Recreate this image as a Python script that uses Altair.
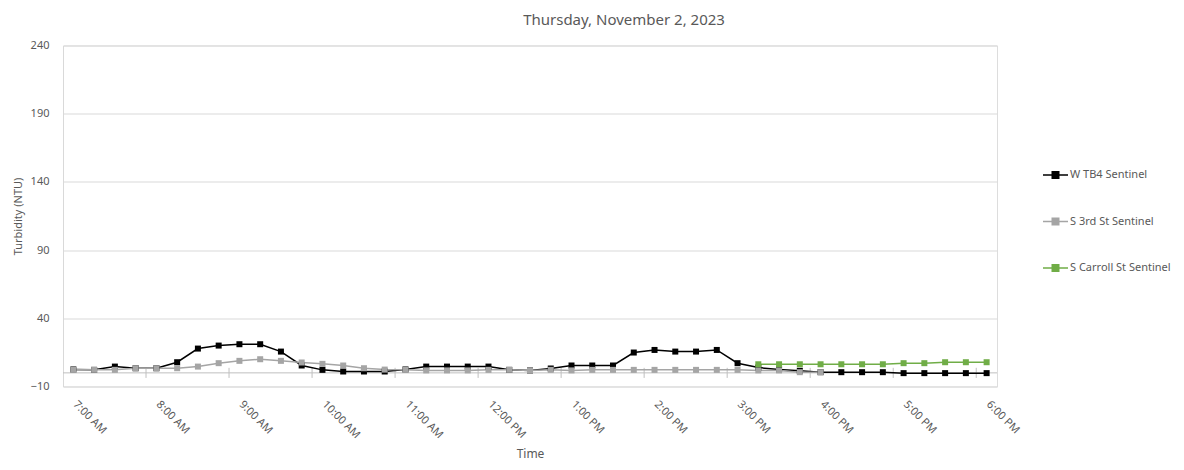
import altair as alt
import pandas as pd

# ---- data ----
times = pd.date_range("2023-11-02 07:00", "2023-11-02 18:00", freq="15min")

series_names = ["W TB4 Sentinel", "S 3rd St Sentinel", "S Carroll St Sentinel"]
series_colors = ["#000000", "#a5a5a5", "#70ad47"]

# W TB4 Sentinel: 7:00 AM .. 6:00 PM (45 readings)
w_tb4 = [2.5, 2.2, 4.6, 3.4, 3.4, 7.8, 17.8, 20.0, 21.0, 21.0, 15.6, 5.4,
         2.2, 1.0, 1.0, 1.0, 2.5, 4.6, 4.6, 4.6, 4.6, 2.2, 1.8, 3.2,
         5.4, 5.4, 5.4, 14.9, 16.8, 15.6, 15.6, 16.8, 7.1, 3.9, 2.5, 1.5,
         0.5, 0.5, 0.5, 0.5, -0.2, -0.2, -0.2, -0.2, -0.2]
# S 3rd St Sentinel: 7:00 AM .. 4:00 PM (37 readings)
s_3rd = [2.2, 2.2, 2.2, 3.4, 3.4, 3.4, 4.6, 7.1, 8.8, 10.0, 8.8, 7.6,
         6.6, 5.4, 3.4, 2.4, 2.2, 1.8, 1.8, 1.8, 2.2, 2.2, 1.8, 2.2,
         1.8, 2.2, 2.2, 2.2, 2.2, 2.2, 2.2, 2.2, 2.2, 1.8, 1.8, 0.5, 0.5]
# S Carroll St Sentinel: 3:15 PM .. 6:00 PM (12 readings)
s_carroll = [6.3, 6.3, 6.3, 6.3, 6.3, 6.3, 6.3, 7.1, 7.1, 7.8, 7.8, 7.8]

y_ticks = [-10, 40, 90, 140, 190, 240]
hour_ticks = list(range(7, 19))          # labelled hours, 7 AM .. 6 PM
boundary_hours = list(range(8, 19))      # axis tick marks between categories

title_text = "Thursday, November 2, 2023"
y_title = "Turbidity (NTU)"
x_title = "Time"

# ---- build tables ----
rows = []
for t, v in zip(times, w_tb4):
    rows.append({"time": t, "series": series_names[0], "value": v})
for t, v in zip(times[:len(s_3rd)], s_3rd):
    rows.append({"time": t, "series": series_names[1], "value": v})
for t, v in zip(times[len(times) - len(s_carroll):], s_carroll):
    rows.append({"time": t, "series": series_names[2], "value": v})
df = pd.DataFrame(rows)
df["time"] = df["time"].dt.strftime("%Y-%m-%dT%H:%M:%S")

tick_df = pd.DataFrame({
    "t": [f"2023-11-02T{h - 1:02d}:52:30" for h in boundary_hours],
    "lo": [-3.7] * len(boundary_hours),
    "hi": [3.7] * len(boundary_hours),
})
zero_df = pd.DataFrame({"v": [0]})

FONT = "Noto Sans"
TXT = "#595959"

def dt(h, m=0, s=0):
    return alt.DateTime(year=2023, month=11, date=2, hours=h, minutes=m, seconds=s)

x_scale = alt.Scale(domain=[dt(6, 52, 30), dt(18, 7, 30)])
y_scale = alt.Scale(domain=[-10, 240], nice=False, zero=False)
color_scale = alt.Scale(domain=series_names, range=series_colors)

x_enc = alt.X(
    "time:T", scale=x_scale, title=x_title,
    axis=alt.Axis(
        values=[dt(h) for h in hour_ticks], format="%-I:%M %p",
        labelAngle=45, labelAlign="left", labelBaseline="middle",
        labelPadding=16, labelOffset=1, labelFontSize=11, labelColor=TXT,
        labelFont=FONT, ticks=False, domain=False, grid=False,
        titleFont=FONT, titleFontSize=12, titleColor=TXT, titleFontWeight="normal",
        titleY=67, titleBaseline="middle", labelOverlap=False,
    ),
)
y_enc = alt.Y(
    "value:Q", scale=y_scale, title=y_title,
    axis=alt.Axis(
        values=y_ticks, labelPadding=14, labelFontSize=11, labelColor=TXT,
        labelFont=FONT, ticks=False, domainColor="#d9d9d9", gridColor="#d9d9d9",
        titleFont=FONT, titleFontSize=11, titleColor=TXT, titleFontWeight="normal",
        titleX=-45, titleBaseline="middle",
    ),
)

legend_path = "M-1,0L1,0M-0.26,-0.26L0.26,-0.26L0.26,0.26L-0.26,0.26Z"
legend = alt.Legend(
    title=None, orient="none", legendX=979, legendY=116,
    symbolType=legend_path, symbolSize=625, symbolStrokeWidth=1.5,
    labelFont=FONT, labelFontSize=11, labelColor=TXT, labelOffset=1,
    rowPadding=26.5, padding=0,
)

base = alt.Chart(df)

axis_line = alt.Chart(zero_df).mark_rule(color="#bfbfbf", strokeWidth=1).encode(
    y=alt.Y("v:Q", scale=y_scale)
)
tick_marks = alt.Chart(tick_df).mark_rule(color="#bfbfbf", strokeWidth=1).encode(
    x=alt.X("t:T", scale=x_scale),
    y=alt.Y("lo:Q", scale=y_scale),
    y2="hi:Q",
)

lines = base.mark_line(strokeWidth=1.5).encode(
    x=x_enc, y=y_enc,
    stroke=alt.Stroke("series:N", scale=color_scale, legend=legend),
)
points = base.mark_point(shape="square", filled=True, size=36, opacity=1).encode(
    x=alt.X("time:T", scale=x_scale),
    y=alt.Y("value:Q", scale=y_scale),
    fill=alt.Fill("series:N", scale=color_scale, legend=legend),
)

chart = alt.layer(axis_line, tick_marks, lines, points).properties(
    width=934, height=341,
    padding={"left": 55, "top": 37.5, "right": 179, "bottom": 75.5},
    autosize=alt.AutoSizeParams(type="none"),
    title=alt.TitleParams(
        title_text, anchor="middle", frame="group", dx=94, dy=19, offset=24,
        baseline="middle", font=FONT, fontSize=15, color=TXT, fontWeight="normal",
    ),
).configure_view(stroke=None).configure(background="white")

chart.save("out.html", embed_options={"renderer": "svg", "actions": False})
